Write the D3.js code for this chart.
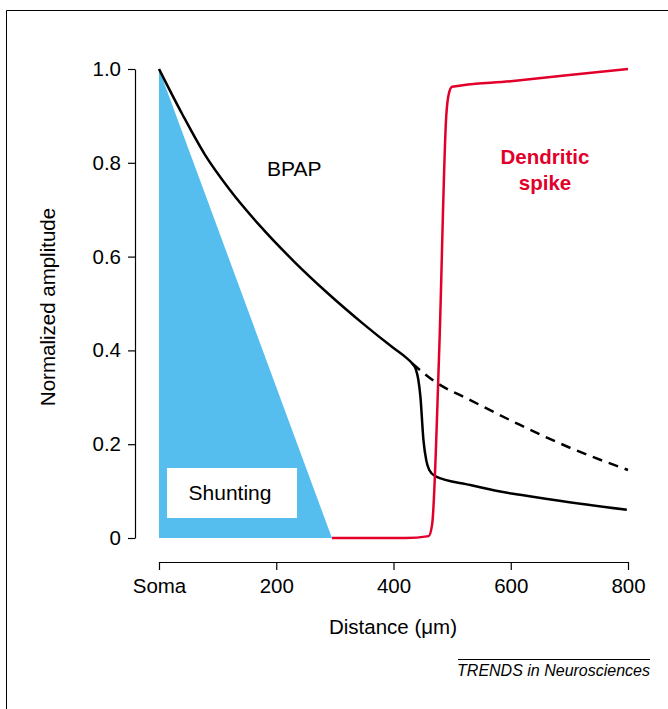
<!DOCTYPE html>
<html>
<head>
<meta charset="utf-8">
<script src="https://cdn.jsdelivr.net/npm/d3@7"></script>
<style>
  body { margin: 0; background: #fff; }
  svg text { font-family: "Liberation Sans", Arial, sans-serif; }
</style>
</head>
<body>
<div id="chart"></div>
<script>
// distance (um) / normalized amplitude
var bpapDist = [0, 40, 78, 121, 172, 230, 286, 350, 400, 423, 432, 438, 442, 446, 451, 456, 461, 471, 531, 582, 616, 700, 798];
var bpapAmp  = [1.0, 0.903, 0.818, 0.742, 0.666, 0.59, 0.524, 0.455, 0.405, 0.383, 0.372, 0.36, 0.34, 0.30, 0.21, 0.165, 0.145, 0.132, 0.113, 0.099, 0.092, 0.076, 0.060];

var passiveDist = [432, 470, 531, 616, 700, 800];
var passiveAmp  = [0.372, 0.334, 0.294, 0.241, 0.193, 0.145];

var spikeDist = [295, 420, 460, 466, 478, 490, 494, 500, 600, 700, 800];
var spikeAmp  = [0, 0, 0.004, 0.03, 0.40, 0.90, 0.945, 0.962, 0.974, 0.987, 1.0];

var shuntDist = [0, 0, 295];
var shuntAmp  = [0, 1.0, 0];

var xTicks = [0, 200, 400, 600, 800];
var xTickLabels = ["Soma", "200", "400", "600", "800"];
var yTicks = [0, 0.2, 0.4, 0.6, 0.8, 1.0];
var yTickLabels = ["0", "0.2", "0.4", "0.6", "0.8", "1.0"];

var width = 668, height = 709;

var svg = d3.select("#chart").append("svg")
    .attr("width", width)
    .attr("height", height);

// frame (top and left edges)
svg.append("path")
    .attr("d", "M6.5,709 V10.5 H668")
    .attr("fill", "none")
    .attr("stroke", "#000")
    .attr("stroke-width", 1);

var x = d3.scaleLinear().domain([0, 800]).range([159, 628]);
var y = d3.scaleLinear().domain([0, 1]).range([538, 69]);

function zip(a, b) {
    return a.map(function (d, i) { return [d, b[i]]; });
}

// shunting triangle
svg.append("path")
    .attr("d", d3.line().x(function (d) { return x(d[0]); }).y(function (d) { return y(d[1]); })(zip(shuntDist, shuntAmp)) + "Z")
    .attr("fill", "#56BEEF");

// shunting label box
svg.append("rect")
    .attr("x", 167).attr("y", 468)
    .attr("width", 130).attr("height", 50)
    .attr("fill", "#fff");
svg.append("text")
    .attr("x", 230).attr("y", 500)
    .attr("text-anchor", "middle")
    .attr("font-size", 21)
    .text("Shunting");

var line = d3.line()
    .x(function (d) { return x(d[0]); })
    .y(function (d) { return y(d[1]); })
    .curve(d3.curveMonotoneX);

svg.append("path")
    .attr("d", line(zip(passiveDist, passiveAmp)))
    .attr("fill", "none")
    .attr("stroke", "#000")
    .attr("stroke-width", 2.5)
    .attr("stroke-dasharray", "10,7");

svg.append("path")
    .attr("d", line(zip(bpapDist, bpapAmp)))
    .attr("fill", "none")
    .attr("stroke", "#000")
    .attr("stroke-width", 2.5);

svg.append("path")
    .attr("d", line(zip(spikeDist, spikeAmp)))
    .attr("fill", "none")
    .attr("stroke", "#E2002A")
    .attr("stroke-width", 2.5);

// axes
var yAxis = svg.append("g")
    .attr("transform", "translate(135,0)")
    .call(d3.axisLeft(y).tickValues(yTicks).tickSize(7).tickSizeOuter(0).tickPadding(7)
        .tickFormat(function (d, i) { return yTickLabels[i]; }));
var xAxis = svg.append("g")
    .attr("transform", "translate(0,562)")
    .call(d3.axisBottom(x).tickValues(xTicks).tickSize(8).tickSizeOuter(0).tickPadding(8)
        .tickFormat(function (d, i) { return xTickLabels[i]; }));

[xAxis, yAxis].forEach(function (a) {
    a.select(".domain").attr("stroke", "#000").attr("stroke-width", 1.2);
    a.selectAll(".tick line").attr("stroke", "#000").attr("stroke-width", 1.2);
    a.selectAll(".tick text")
        .attr("fill", "#000")
        .attr("font-size", 20.5)
        .attr("font-family", "Liberation Sans, Arial, sans-serif");
});

// axis titles
svg.append("text")
    .attr("transform", "translate(55,307) rotate(-90)")
    .attr("text-anchor", "middle")
    .attr("font-size", 20.5)
    .text("Normalized amplitude");

svg.append("text")
    .attr("x", 393).attr("y", 634)
    .attr("text-anchor", "middle")
    .attr("font-size", 20.5)
    .text("Distance (\u03bcm)");

// curve labels
svg.append("text")
    .attr("x", 267).attr("y", 176)
    .attr("font-size", 21)
    .text("BPAP");

svg.append("text")
    .attr("x", 545).attr("y", 164)
    .attr("text-anchor", "middle")
    .attr("font-size", 20.5)
    .attr("font-weight", "bold")
    .attr("fill", "#E2002A")
    .text("Dendritic");
svg.append("text")
    .attr("x", 545).attr("y", 190)
    .attr("text-anchor", "middle")
    .attr("font-size", 20.5)
    .attr("font-weight", "bold")
    .attr("fill", "#E2002A")
    .text("spike");

// journal credit
svg.append("line")
    .attr("x1", 458).attr("x2", 650)
    .attr("y1", 659.5).attr("y2", 659.5)
    .attr("stroke", "#000").attr("stroke-width", 1);
svg.append("text")
    .attr("x", 650).attr("y", 676)
    .attr("text-anchor", "end")
    .attr("font-size", 16)
    .attr("font-style", "italic")
    .text("TRENDS in Neurosciences");
</script>
</body>
</html>
